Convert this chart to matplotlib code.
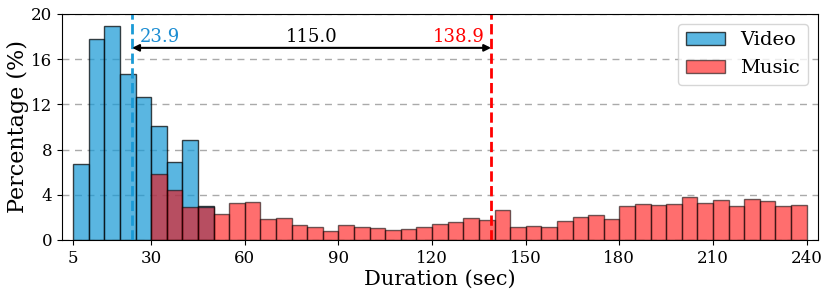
import numpy as np
import matplotlib.pyplot as plt

plt.rcParams['font.family'] = ['DejaVu Serif']

bin_width = 5
video_start = 5
video_pct = [6.73, 17.8, 18.95, 14.68, 12.62, 10.09, 6.86, 8.85, 3.0]

music_start = 30
music_pct = [5.83, 4.44, 2.88, 2.94, 2.27, 3.24, 3.33, 1.85, 1.97, 1.29,
             1.18, 0.82, 1.29, 1.18, 1.03, 0.85, 0.97, 1.15, 1.38, 1.62,
             1.94, 1.74, 2.65, 1.12, 1.26, 1.12, 1.68, 2.03, 2.18, 1.88,
             3.0, 3.21, 3.09, 3.18, 3.77, 3.24, 3.53, 3.0, 3.59, 3.41,
             3.0, 3.09]

video_mean = 23.9
music_mean = 138.9
xticks = [5, 30, 60, 90, 120, 150, 180, 210, 240]
yticks = [0, 4, 8, 12, 16, 20]

video_edges = video_start + bin_width * np.arange(len(video_pct))
music_edges = music_start + bin_width * np.arange(len(music_pct))

fig = plt.figure(figsize=(8.3, 2.97), dpi=100)
ax = fig.add_axes([0.075, 0.192, 0.91, 0.761])

ax.grid(axis="y", linestyle=(0, (5, 4)), color="#aaaaaa", linewidth=1)
ax.set_axisbelow(True)

ax.bar(video_edges, video_pct, width=bin_width, align="edge",
       color="#1a9ad6", alpha=0.72, edgecolor="black", linewidth=1,
       label="Video")
ax.bar(music_edges, music_pct, width=bin_width, align="edge",
       color="red", alpha=0.57, edgecolor="black", linewidth=1,
       label="Music")

ax.axvline(video_mean, color="#1a9ad6", linestyle="--", linewidth=2)
ax.axvline(music_mean, color="red", linestyle="--", linewidth=2)

ax.annotate("", xy=(video_mean, 17), xytext=(music_mean, 17),
            arrowprops=dict(arrowstyle="<|-|>", color="black", lw=1.5,
                            mutation_scale=10, shrinkA=0, shrinkB=0))
ax.text(video_mean + 2.5, 17.2, f"{video_mean}", color="#1a8cd2",
        fontsize=13, ha="left", va="bottom")
ax.text(music_mean - 2, 17.2, f"{music_mean}", color="red",
        fontsize=13, ha="right", va="bottom")
ax.text((video_mean + music_mean) / 2, 17.2,
        f"{music_mean - video_mean:.1f}", color="black",
        fontsize=13, ha="center", va="bottom")

ax.set_xlim(1.5, 243.5)
ax.set_ylim(0, 20)
ax.set_xticks(xticks)
ax.set_yticks(yticks)
ax.tick_params(labelsize=12)
ax.set_xlabel("Duration (sec)", fontsize=15, labelpad=2)
ax.set_ylabel("Percentage (%)", fontsize=16, labelpad=2)

ax.legend(loc="upper right", fontsize=14)

fig.savefig("out.png", dpi=100)
